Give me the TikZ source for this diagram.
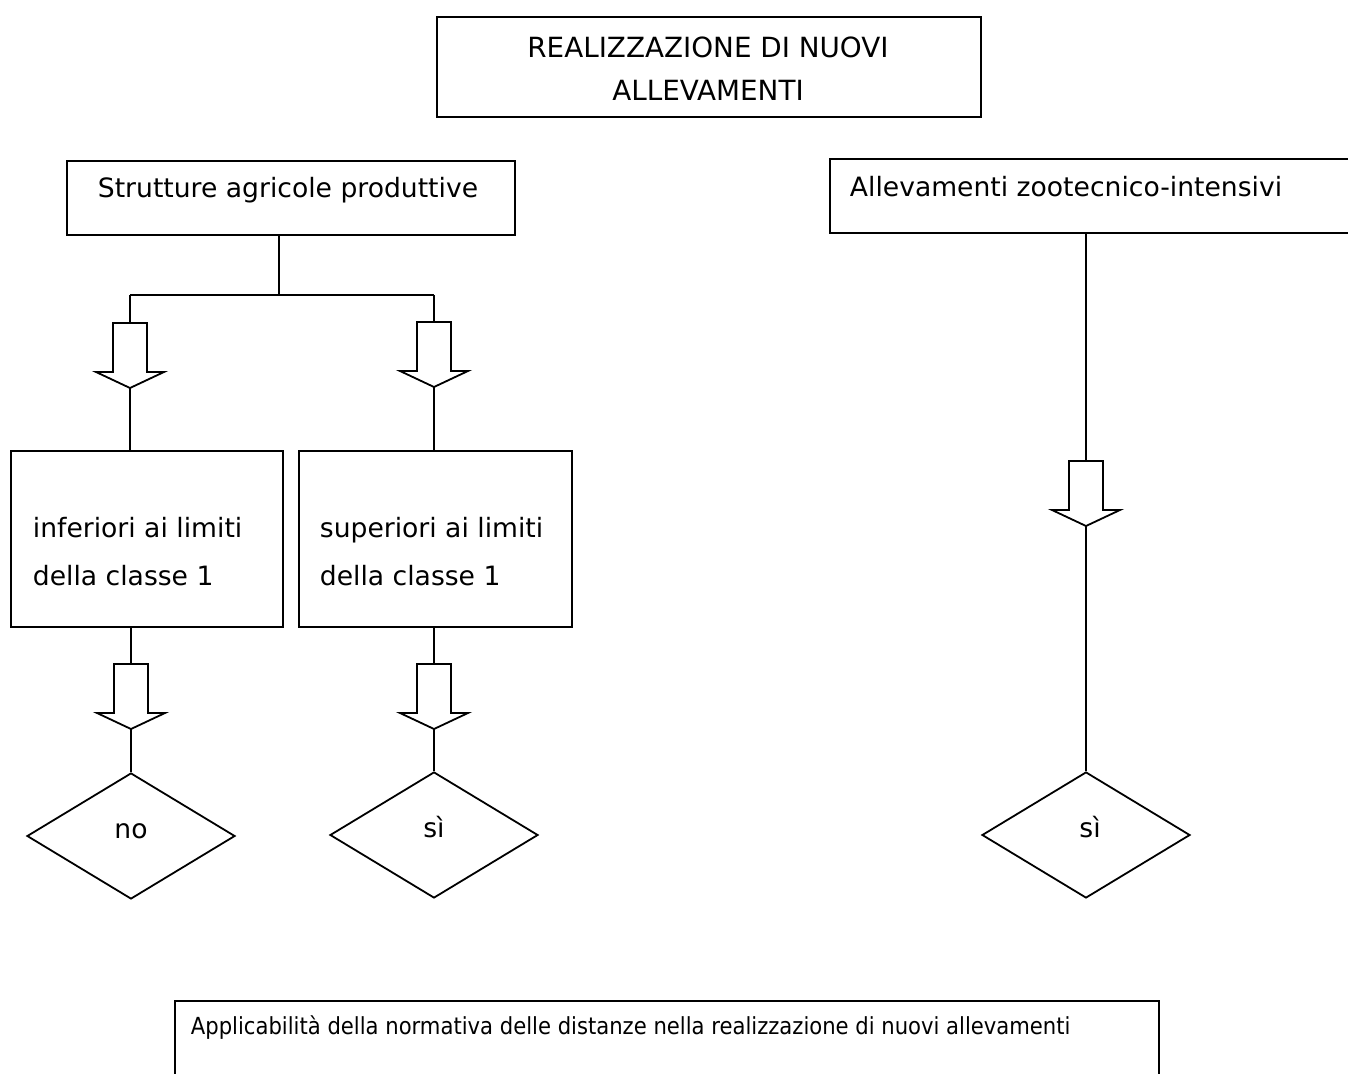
\documentclass[tikz,border=0pt]{standalone}
\usepackage{fontspec}
\setmainfont{DejaVu Sans}
\newfontfamily\condfont{DejaVu Sans Condensed}
\usetikzlibrary{shapes.geometric}
\begin{document}
\begin{tikzpicture}[x=1pt,y=-1pt,line width=1.8pt,
  box/.style={draw,rectangle,inner sep=0pt,anchor=north west},
  dia/.style={draw,diamond,inner sep=0pt,minimum width=208pt,minimum height=126pt},
  txt/.style={inner sep=0pt,font=\fontsize{26.6}{26.6}\selectfont},
  blockarrow/.pic={
    \draw[line join=miter] (-17,0) -- (17,0) -- (17,49) -- (34,49) -- (0,65) -- (-34,49) -- (-17,49) -- cycle;
    \coordinate (-top) at (0,0);
    \coordinate (-tip) at (0,65);
  }]
\useasboundingbox (0,0) rectangle (1348,1073);
\clip (0,0) rectangle (1348,1073);
\fill[white] (0,0) rectangle (1348,1073);
% boxes
\node[box,minimum width=544pt,minimum height=100pt] (top) at (436,16) {};
\node[txt,align=center,font=\fontsize{27.8}{43}\selectfont] (toptxt) at (708,69) {REALIZZAZIONE DI NUOVI\\ALLEVAMENTI};
\node[box,minimum width=448pt,minimum height=74pt] (sap) at (66,160) {};
\node[txt,anchor=base west] (saptxt) at (97,197) {Strutture agricole produttive};
\node[box,minimum width=540pt,minimum height=74pt] (zoo) at (829,158) {};
\node[txt,anchor=base west] (zootxt) at (849,196) {Allevamenti zootecnico-intensivi};
\node[box,minimum width=272pt,minimum height=176pt] (inf) at (10,450) {};
\node[txt,anchor=base west,align=left,font=\fontsize{26.6}{48}\selectfont] (inftxt) at (32,585) {inferiori ai limiti\\della classe 1};
\node[box,minimum width=273pt,minimum height=176pt] (sup) at (298,450) {};
\node[txt,anchor=base west,align=left,font=\fontsize{26.6}{48}\selectfont] (suptxt) at (319,585) {superiori ai limiti\\della classe 1};
% diamonds
\node[dia] (d1) at (131,836) {};
\node[txt,anchor=base] (d1txt) at (131,838) {no};
\node[dia] (d2) at (434,835) {};
\node[txt,anchor=base] (d2txt) at (434,837) {sì};
\node[dia] (d3) at (1086,835) {};
\node[txt,anchor=base] (d3txt) at (1090,837) {sì};
% bottom box
\node[box,minimum width=984pt,minimum height=120pt] (app) at (174,1000) {};
\node[inner sep=0pt,anchor=base west,font=\condfont\fontsize{23.5}{23.5}\selectfont] (apptxt) at (190,1034) {Applicabilità della normativa delle distanze nella realizzazione di nuovi allevamenti};
% junctions
\coordinate (jm) at (279,295);
\coordinate (jl) at (130,295);
\coordinate (jr) at (434,295);
% block arrows
\pic (a1) at (130,323) {blockarrow};
\pic (a2) at (434,322) {blockarrow};
\pic (a3) at (131,664) {blockarrow};
\pic (a4) at (434,664) {blockarrow};
\pic (a5) at (1086,461) {blockarrow};
% connectors
\draw (sap.south -| jm) -- (jm);
\draw (jl) -- (jr);
\draw (jl) -- (a1-top);
\draw (jr) -- (a2-top);
\draw (a1-tip) -- (inf.north -| a1-tip);
\draw (a2-tip) -- (sup.north -| a2-tip);
\draw (inf.south -| a3-top) -- (a3-top);
\draw (sup.south -| a4-top) -- (a4-top);
\draw (a3-tip) -- (d1.north);
\draw (a4-tip) -- (d2.north);
\draw (zoo.south -| a5-top) -- (a5-top);
\draw (a5-tip) -- (d3.north);
\end{tikzpicture}
\end{document}
